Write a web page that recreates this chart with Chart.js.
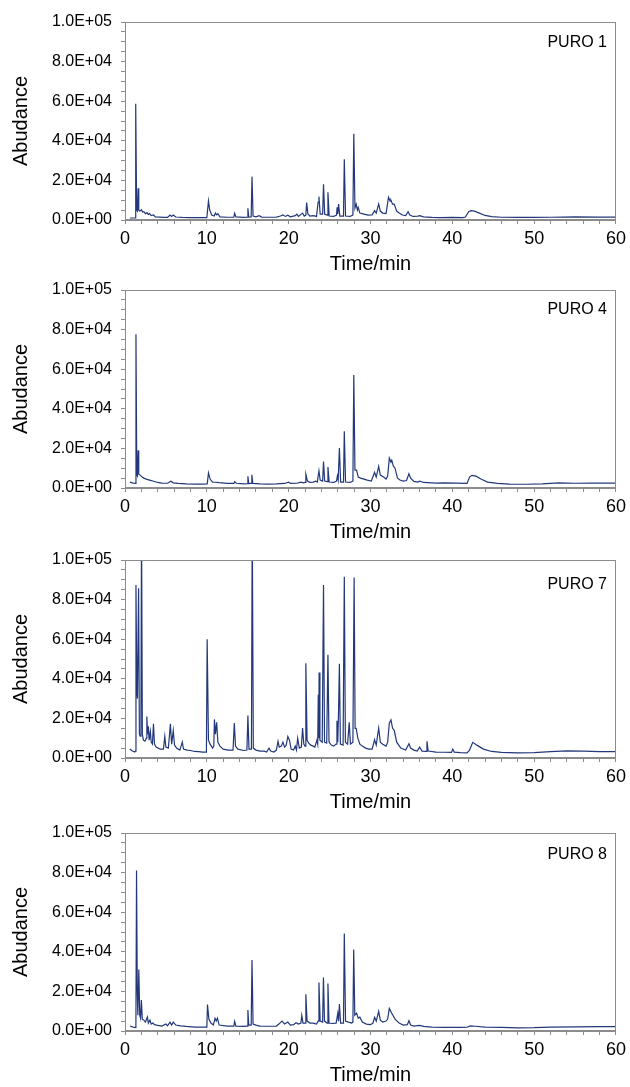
<!DOCTYPE html>
<html>
<head>
<meta charset="utf-8">
<script src="https://cdn.jsdelivr.net/npm/chart.js@4.4.1/dist/chart.umd.min.js"></script>
<style>
html,body{margin:0;padding:0;background:#fff;overflow:hidden}
#wrap{position:relative;width:630px;height:1087px}
.panel{position:absolute;left:0}
</style>
</head>
<body>
<div id="wrap">
  <canvas id="c1" class="panel" width="630" height="280" style="top:0px"></canvas>
  <canvas id="c2" class="panel" width="630" height="280" style="top:268px"></canvas>
  <canvas id="c3" class="panel" width="630" height="280" style="top:538px"></canvas>
  <canvas id="c4" class="panel" width="630" height="280" style="top:811px"></canvas>
</div>
<script>
/* ============================================================
   TIC chromatograms, 4 samples (PURO 1 / 4 / 7 / 8)
   values: [time/min, abundance]
   ============================================================ */
const X_TICKS_MAJOR = [0,10,20,30,40,50,60];
const Y_TICKS_MAJOR = [0,20000,40000,60000,80000,100000];

const puro1 = [
  [0.6,1000],[1.25,1000],[1.28,1300],[1.34,58700],[1.42,5000],[1.52,4500],[1.6,16000],[1.68,5000],
  [1.8,4500],[2.0,5200],[2.15,4000],[2.3,4200],[2.5,3200],[2.7,3600],[2.85,2800],[3.0,3200],
  [3.2,2200],[3.5,2600],[3.7,1600],[4.2,1500],[4.8,1300],[5.2,1300],[5.5,2500],[5.7,1800],
  [5.9,2500],[6.2,1500],[7,1300],[8,1200],[9,1200],[10.0,1200],[10.2,9600],[10.35,5000],
  [10.6,2500],[10.9,2000],[11.05,3500],[11.2,2600],[11.35,3200],[11.6,1600],[12.5,1400],[13.3,1400],
  [13.4,3400],[13.55,1600],[14.5,1300],[14.95,1400],[15.02,5900],[15.12,1500],[15.42,1600],[15.52,21900],
  [15.65,2000],[16,1600],[16.4,2200],[16.7,1500],[17.5,1400],[18.5,1500],[19,2000],[19.3,2600],
  [19.6,1800],[19.9,2400],[20.2,1600],[20.8,2200],[21.0,3000],[21.2,1800],[21.7,3500],[21.9,2000],
  [22.1,2500],[22.2,8800],[22.35,3000],[22.6,2000],[23.0,2200],[23.4,1800],[23.6,9000],[23.7,11800],
  [23.85,3000],[24.15,3000],[24.26,18000],[24.4,3000],[24.7,2500],[24.8,14000],[24.95,2000],[25.5,1800],
  [25.85,2500],[25.92,6400],[26.0,3000],[26.1,8100],[26.25,2000],[26.7,2000],[26.8,30700],[26.95,2000],
  [27.5,1800],[27.85,2500],[27.96,43500],[28.1,6000],[28.25,8000],[28.4,5000],[28.5,6400],[28.7,3500],
  [29.2,3000],[29.7,2500],[30.2,2600],[30.5,4700],[30.7,3500],[31.0,8100],[31.2,4500],[31.5,3500],
  [31.9,3200],[32.2,11500],[32.4,9500],[32.5,10000],[32.7,8000],[32.9,8000],[33.2,4500],[33.5,3500],
  [33.9,2500],[34.3,2200],[34.6,4200],[34.8,2500],[35.2,1800],[35.8,2000],[36.0,2200],[36.5,1600],
  [37.5,1300],[38.5,1200],[40,1300],[41.3,1200],[41.6,1500],[42.0,4200],[42.3,4700],[42.7,4500],
  [43.3,3500],[44,2300],[44.8,1700],[46,1400],[48,1300],[50,1300],[52,1400],[55,1600],[58,1500],[60,1500]
];

const puro4 = [
  [0.6,3000],[1.0,2500],[1.27,2300],[1.34,77600],[1.44,6500],[1.52,6000],[1.6,19000],[1.68,7000],
  [1.85,6500],[2.1,5500],[2.3,5000],[2.6,4500],[3.0,4000],[3.5,3400],[4.0,2800],[4.5,2500],
  [5.2,2400],[5.6,3400],[5.9,2600],[6.5,2300],[7.5,2100],[8.5,2000],[9.5,2000],[10.05,2100],
  [10.2,7600],[10.4,4500],[10.7,3000],[11.1,2900],[11.5,2700],[12.5,2300],[13.3,2300],[13.4,3200],
  [13.6,2400],[14.5,2100],[14.95,2200],[15.02,5900],[15.12,2200],[15.4,2300],[15.5,6700],[15.62,2300],
  [16.5,2100],[17.5,2000],[18.5,2100],[19.5,2300],[20.0,3000],[20.2,2300],[21,2400],[21.5,3000],
  [21.8,2600],[22.0,2800],[22.1,7000],[22.3,3500],[22.6,2800],[23.0,3000],[23.3,3500],[23.5,3000],
  [23.7,8700],[23.85,4000],[24.15,3500],[24.26,13400],[24.4,3500],[24.7,3200],[24.8,10600],[24.95,3000],
  [25.5,2800],[25.85,3500],[25.95,6000],[26.05,4000],[26.2,20200],[26.35,3000],[26.7,3000],[26.8,28700],
  [26.95,3000],[27.5,2800],[27.85,3500],[27.96,57100],[28.1,9000],[28.3,9000],[28.5,5500],[28.8,5000],
  [29.2,4500],[29.6,4000],[30.1,3500],[30.5,7900],[30.7,5500],[31.0,10900],[31.2,6500],[31.6,5500],
  [31.9,4500],[32.1,6000],[32.3,15100],[32.5,13000],[32.6,14000],[32.8,11000],[33.0,10000],[33.3,5000],
  [33.6,4000],[34.0,3500],[34.4,3800],[34.7,7200],[34.9,5000],[35.3,3300],[35.8,3000],[36.0,3500],
  [36.5,2800],[38,2500],[39,2600],[40.5,2500],[41.8,2300],[42.1,5500],[42.4,6400],[42.9,6000],
  [43.5,4500],[44.3,3000],[45.5,2300],[47,2000],[49,1900],[51,2100],[53,2600],[55,2400],[57,2500],[60,2500]
];

const puro7 = [
  [0.6,4500],[0.9,3500],[1.2,3000],[1.27,3500],[1.34,87400],[1.45,34000],[1.52,30000],[1.66,85700],
  [1.76,12000],[1.85,11000],[1.95,20000],[2.02,120000],[2.12,12000],[2.25,9000],[2.45,8500],[2.6,10000],
  [2.67,21000],[2.75,12000],[2.85,16000],[2.95,9000],[3.1,13400],[3.2,8000],[3.35,7000],[3.48,17300],
  [3.6,7000],[3.8,5500],[4.3,4500],[4.7,4500],[4.86,10900],[5.0,5500],[5.3,5000],[5.55,17300],
  [5.7,7000],[5.9,13800],[6.05,6500],[6.3,5000],[6.7,4000],[7.0,8000],[7.15,4500],[7.6,4000],
  [8.0,3800],[8.5,3300],[9.0,3200],[9.5,3000],[9.95,3000],[10.04,60000],[10.2,9000],[10.4,7000],
  [10.7,5000],[10.85,6000],[10.93,19500],[11.05,12000],[11.2,18000],[11.35,8000],[11.6,6000],[12.0,4500],
  [12.6,4000],[13.2,4000],[13.36,17600],[13.5,6000],[13.8,4500],[14.5,3800],[14.9,4000],[15.02,21500],
  [15.15,4500],[15.45,4500],[15.55,120000],[15.68,5000],[16.0,4000],[16.5,3500],[17.0,3500],[17.3,3000],
  [17.6,5000],[17.8,3500],[18.2,3000],[18.5,4000],[18.7,8400],[18.85,5500],[19.1,6000],[19.3,8000],
  [19.5,5500],[19.7,6500],[19.9,10900],[20.1,9000],[20.3,4500],[20.6,4000],[20.8,6000],[20.95,4000],
  [21.1,10000],[21.3,5000],[21.55,5500],[21.7,15100],[21.85,7000],[22.0,6000],[22.1,47900],[22.25,9000],
  [22.45,7500],[22.7,6500],[23.0,6000],[23.2,5500],[23.45,9000],[23.55,7000],[23.62,32000],[23.68,10000],
  [23.72,43200],[23.82,9000],[24.1,8000],[24.26,87400],[24.38,8000],[24.65,7500],[24.8,52100],[24.93,8000],
  [25.2,6500],[25.5,6000],[25.8,7000],[25.9,18800],[26.0,8000],[26.1,24000],[26.2,47600],[26.32,7000],
  [26.65,6500],[26.8,91600],[26.93,8000],[27.2,7000],[27.4,18000],[27.55,7000],[27.85,8000],[28.0,91100],
  [28.12,15000],[28.25,15000],[28.45,10000],[28.7,7000],[29.0,6000],[29.4,5000],[29.8,4500],[30.2,4500],
  [30.5,9200],[30.7,6500],[31.0,15100],[31.2,8000],[31.5,7000],[31.9,6000],[32.1,8000],[32.3,17600],
  [32.5,19300],[32.7,15000],[32.9,14000],[33.2,8000],[33.7,5000],[34.3,4000],[34.7,7200],[34.9,5000],
  [35.3,4000],[35.7,3500],[36.0,5500],[36.3,3500],[36.8,3300],[36.9,8400],[37.05,3500],[38,3000],
  [39,2900],[39.9,2800],[40.05,4500],[40.25,3000],[41,2700],[41.8,2600],[42.1,4000],[42.5,7900],
  [43.0,6500],[43.8,4500],[44.8,3300],[46,2800],[48,2600],[50,2700],[52,3200],[54,3600],
  [56,3500],[58,3200],[60,3200]
];

const puro8 = [
  [0.6,2500],[1.0,2000],[1.33,1800],[1.41,81000],[1.5,20000],[1.57,8000],[1.69,31100],[1.8,8000],
  [1.9,6500],[2.0,15600],[2.12,6000],[2.3,5500],[2.5,4500],[2.74,7000],[2.85,4000],[3.05,5500],
  [3.2,3500],[3.4,4000],[3.6,3200],[4.0,2800],[4.5,2500],[5.0,3500],[5.2,2600],[5.5,4500],
  [5.7,3000],[5.9,4500],[6.2,3000],[6.8,2600],[7.5,2300],[8.5,2000],[9.5,2000],[10.0,2000],
  [10.08,13400],[10.25,6000],[10.5,4000],[10.8,3000],[11.0,6400],[11.15,5000],[11.3,6500],[11.5,3000],
  [12.5,2500],[13.3,2500],[13.4,4900],[13.55,2500],[14.5,2300],[14.95,2500],[15.02,10600],[15.12,3000],
  [15.42,3000],[15.52,35800],[15.65,3500],[16.0,3000],[16.5,2500],[17.5,2400],[18.5,2500],[18.8,3500],
  [19.2,5000],[19.5,3500],[19.9,4500],[20.2,3000],[20.6,3200],[20.9,4200],[21.2,3500],[21.5,4000],
  [21.6,7900],[21.75,4000],[22.0,4000],[22.1,18500],[22.25,5000],[22.6,4000],[23.0,4000],[23.4,3500],
  [23.6,5000],[23.7,24500],[23.85,5000],[24.15,4500],[24.25,27000],[24.38,5000],[24.7,4000],[24.8,24000],
  [24.93,4000],[25.3,3800],[25.8,4000],[26.0,8900],[26.1,5000],[26.2,13600],[26.35,4000],[26.7,4000],
  [26.8,49200],[26.95,5000],[27.3,4500],[27.7,4000],[27.85,4500],[27.95,41200],[28.08,8000],[28.3,9000],
  [28.5,6500],[28.7,7000],[29.0,4500],[29.5,3500],[30.0,3200],[30.3,4000],[30.5,6900],[30.7,5000],
  [31.0,9900],[31.2,5500],[31.5,4500],[31.9,5000],[32.1,6000],[32.3,11400],[32.6,9000],[33.0,6000],
  [33.5,4000],[34.0,3000],[34.5,3200],[34.7,5200],[34.9,3000],[35.3,2500],[36.0,2800],[36.5,2300],
  [37.5,2000],[39,1800],[41,1800],[41.8,1900],[42.2,2600],[42.8,2400],[44,2000],[46,1800],
  [48,1600],[50,1700],[52,2000],[55,2100],[58,2200],[60,2200]
];

const PANELS = [
  {canvas:"c1", label:"PURO 1", data:puro1, labelDy:25},
  {canvas:"c2", label:"PURO 4", data:puro4, labelDy:24},
  {canvas:"c3", label:"PURO 7", data:puro7, labelDy:29},
  {canvas:"c4", label:"PURO 8", data:puro8, labelDy:26},
];

/* ---------- Helpers ---------- */
const FONT = "'Liberation Sans', Arial, Helvetica, sans-serif";
const AXIS = "#8c8c8c";
const INK  = "#000";
const LINE = "#22387a";

const sci = v => {
  const e = v === 0 ? 0 : Math.floor(Math.log10(v));
  const m = v / Math.pow(10, e);
  return m.toFixed(1) + "E+" + String(e).padStart(2, "0");
};

/* frame round plot area + sample name top-right */
const framePlugin = {
  id: "frame",
  afterDraw(chart, args, opts){
    const {ctx, chartArea:a} = chart;
    ctx.save();
    ctx.strokeStyle = AXIS;
    ctx.lineWidth = 1;
    ctx.strokeRect(Math.round(a.left)+0.5, Math.round(a.top)+0.5,
                   Math.round(a.right-a.left)-1, Math.round(a.bottom-a.top)-1);
    ctx.fillStyle = INK;
    ctx.font = "16px " + FONT;
    ctx.textAlign = "right";
    ctx.textBaseline = "alphabetic";
    ctx.fillText(opts.text, a.right - 9, a.top + opts.dy);
    ctx.restore();
  }
};

function makeChart(p){
  return new Chart(document.getElementById(p.canvas), {
    type: "line",
    data: {
      datasets: [{
        data: p.data.map(([x, y]) => ({x, y})),
        borderColor: LINE, borderWidth: 1.2, pointRadius: 0, tension: 0, fill: false
      }]
    },
    options: {
      responsive: false, animation: false, events: [],
      layout: {padding: {top: 22, right: 13, left: 0, bottom: 0}},
      plugins: {legend: {display: false}, tooltip: {enabled: false},
                frame: {text: p.label, dy: p.labelDy}},
      scales: {
        x: {
          type: "linear", min: 0, max: 60,
          afterFit: s => { s.height = 60; },
          afterBuildTicks: s => { s.ticks = Array.from({length: 31}, (_, i) => ({value: i * 2})); },
          ticks: {autoSkip: false, maxRotation: 0, padding: 4, color: INK,
                  font: {family: FONT, size: 18},
                  callback: v => X_TICKS_MAJOR.includes(v) ? String(v) : ""},
          grid: {drawOnChartArea: false, tickLength: 4, color: AXIS},
          border: {color: AXIS},
          title: {display: true, text: "Time/min", color: INK,
                  font: {family: FONT, size: 20}, padding: {top: 0, bottom: 4}}
        },
        y: {
          min: 0, max: 100000,
          afterFit: s => { s.width = 125; },
          afterBuildTicks: s => { s.ticks = Array.from({length: 21}, (_, i) => ({value: i * 5000})); },
          ticks: {autoSkip: false, padding: 9, color: INK,
                  font: {family: FONT, size: 16},
                  callback: v => Y_TICKS_MAJOR.includes(v) ? sci(v) : ""},
          grid: {drawOnChartArea: false, tickLength: 4, color: AXIS},
          border: {color: AXIS},
          title: {display: true, text: "Abudance", color: INK,
                  font: {family: FONT, size: 20}, padding: {top: 9, bottom: 0}}
        }
      }
    },
    plugins: [framePlugin]
  });
}

PANELS.forEach(makeChart);
</script>
</body>
</html>
